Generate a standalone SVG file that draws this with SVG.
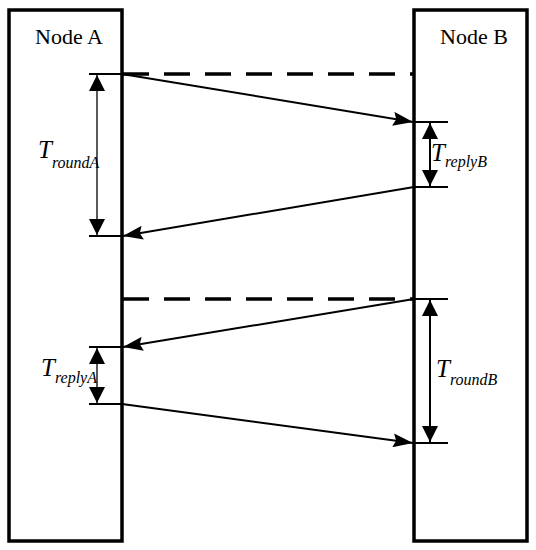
<svg xmlns="http://www.w3.org/2000/svg" width="536" height="550" viewBox="0 0 536 550">
<style>
.box{fill:#fff;stroke:#000;stroke-width:3.5}
.lbl{font-family:"Liberation Serif","Times New Roman",serif;font-size:22px;fill:#000}
.T{font-family:"Liberation Serif","Times New Roman",serif;font-style:italic;font-size:25px;fill:#000}
.sub{font-size:16px}
.tick{stroke:#000;stroke-width:2;fill:none}
.dash{stroke:#000;stroke-width:3.5;stroke-dasharray:26 15;fill:none}
.msg{stroke:#000;stroke-width:2;fill:none;marker-end:url(#ah)}
.dim{stroke:#000;stroke-width:1.3;fill:none;marker-start:url(#dh);marker-end:url(#dh)}
.dimB{stroke-width:2}
</style>
<defs>
<marker id="ah" markerUnits="userSpaceOnUse" viewBox="0 0 20 14" refX="20" refY="7" markerWidth="20" markerHeight="14" orient="auto">
<path d="M0,0 L20,7 L0,14 L3,7 z" fill="#000"/>
</marker>
<marker id="dh" markerUnits="userSpaceOnUse" viewBox="0 0 16 16" refX="16" refY="8" markerWidth="16" markerHeight="16" orient="auto-start-reverse">
<path d="M0,0 L16,8 L0,16 z" fill="#000"/>
</marker>
</defs>
<g id="nodeA">
<rect class="box" x="9" y="10" width="113" height="531"/>
<text class="lbl" x="35" y="44">Node A</text>
</g>
<g id="nodeB">
<rect class="box" x="414" y="10" width="113" height="531"/>
<text class="lbl" x="440" y="44">Node B</text>
</g>
<g id="connectors">
<line class="dash" x1="123" y1="74" x2="414" y2="74"/>
<line class="dash" x1="123" y1="299" x2="414" y2="299"/>
<line class="tick" x1="89" y1="74" x2="122" y2="74"/>
<line class="tick" x1="89" y1="236" x2="122" y2="236"/>
<line class="tick" x1="89" y1="347" x2="122" y2="347"/>
<line class="tick" x1="89" y1="404" x2="122" y2="404"/>
<line class="tick" x1="414" y1="122" x2="448" y2="122"/>
<line class="tick" x1="414" y1="187" x2="448" y2="187"/>
<line class="tick" x1="414" y1="299" x2="448" y2="299"/>
<line class="tick" x1="414" y1="443" x2="448" y2="443"/>
<line class="msg" x1="122" y1="74" x2="413" y2="122"/>
<line class="msg" x1="414" y1="187" x2="123" y2="236"/>
<line class="msg" x1="414" y1="299" x2="123" y2="347"/>
<line class="msg" x1="122" y1="404" x2="413" y2="443"/>
<line class="dim" x1="97" y1="75" x2="97" y2="235"/>
<line class="dim" x1="97" y1="348" x2="97" y2="403"/>
<line class="dim dimB" x1="430" y1="123" x2="430" y2="186"/>
<line class="dim dimB" x1="430" y1="300" x2="430" y2="442"/>
</g>
<g id="labels">
<text class="T" x="38" y="158">T<tspan class="sub" dy="10">roundA</tspan></text>
<text class="T" x="431" y="161">T<tspan class="sub" dy="6">replyB</tspan></text>
<text class="T" x="41" y="376">T<tspan class="sub" dy="7">replyA</tspan></text>
<text class="T" x="436" y="377">T<tspan class="sub" dy="8">roundB</tspan></text>
</g>
</svg>
